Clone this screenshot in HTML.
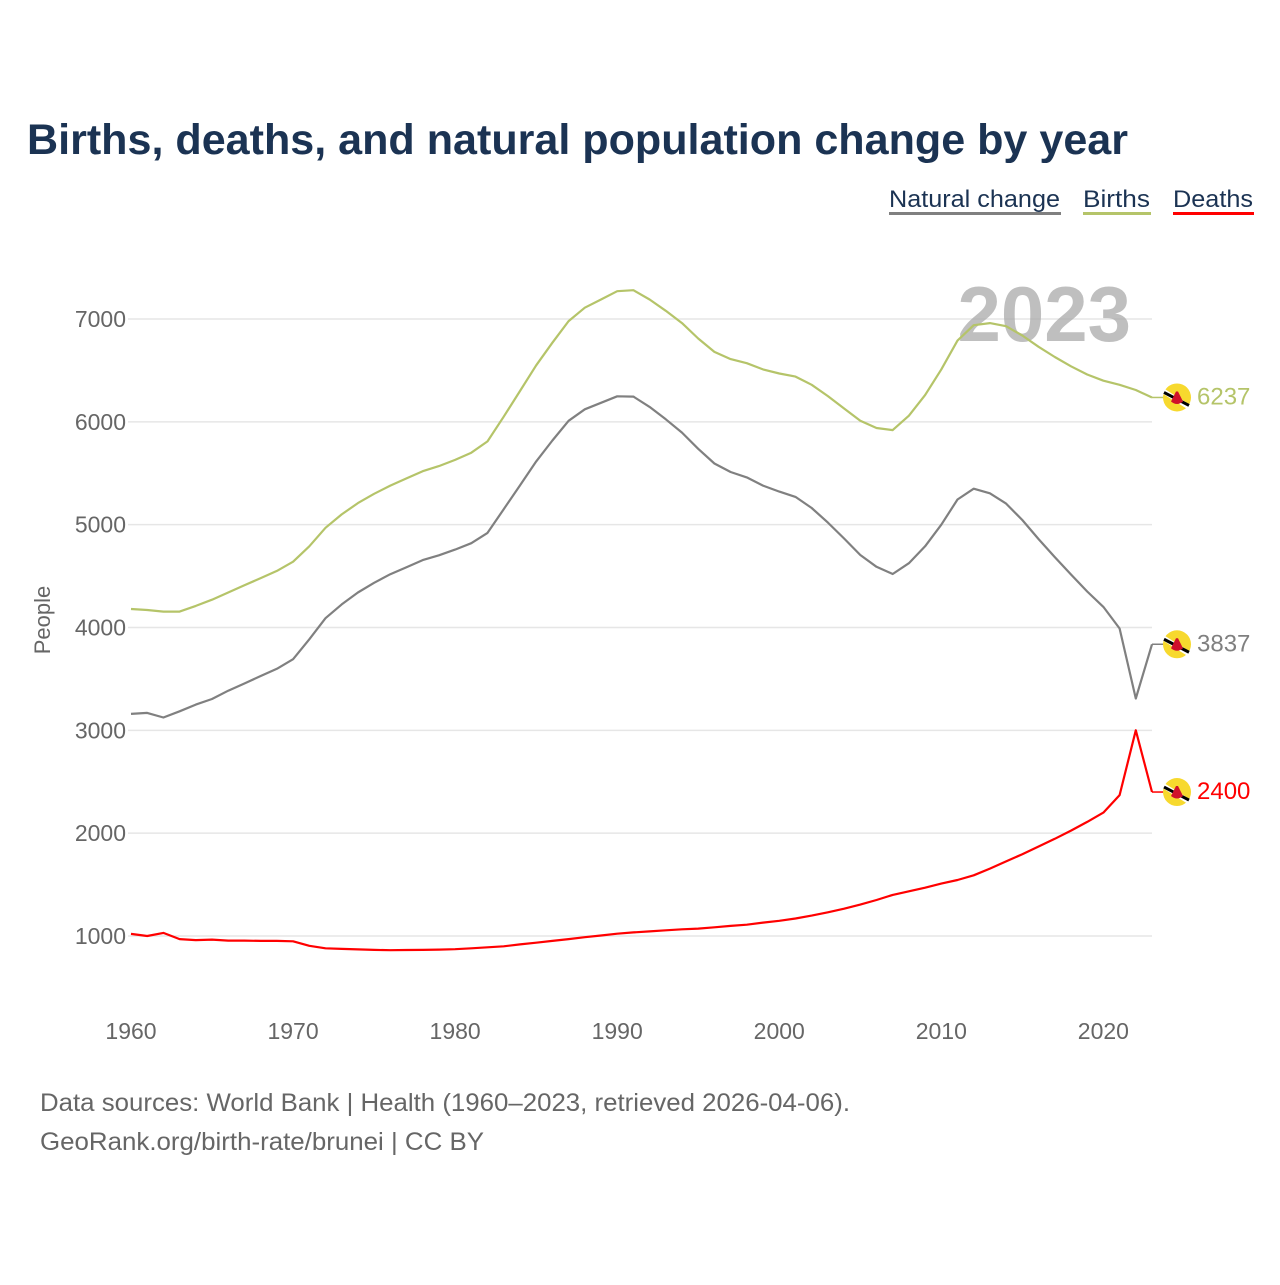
<!DOCTYPE html>
<html><head><meta charset="utf-8"><style>
body{margin:0;background:#fff;}
svg text{font-family:"Liberation Sans",sans-serif;}
</style></head><body>
<svg width="1280" height="1280" viewBox="0 0 1280 1280" xmlns="http://www.w3.org/2000/svg">
<rect width="1280" height="1280" fill="#fff"/>
<text x="27" y="154" font-size="43" font-weight="bold" fill="#1b3353" textLength="1101" lengthAdjust="spacingAndGlyphs">Births, deaths, and natural population change by year</text>
<g>
<text x="889" y="207" font-size="24" fill="#1b3353" textLength="171" lengthAdjust="spacingAndGlyphs">Natural change</text>
<rect x="889" y="212" width="172" height="3" fill="#808080"/>
<text x="1083" y="207" font-size="24" fill="#1b3353" textLength="67" lengthAdjust="spacingAndGlyphs">Births</text>
<rect x="1083" y="212" width="68" height="3" fill="#b5c469"/>
<text x="1173" y="207" font-size="24" fill="#1b3353" textLength="80" lengthAdjust="spacingAndGlyphs">Deaths</text>
<rect x="1173" y="212" width="81" height="3" fill="#ff0000"/>
</g>
<g id="grid"></g>
<g id="yticks"></g>
<g id="xticks"></g>
<text x="1131" y="341" font-size="78" font-weight="bold" fill="#aaa" fill-opacity="0.75" text-anchor="end">2023</text>
<g id="series"></g>
<text transform="translate(50,620) rotate(-90)" font-size="22" fill="#666" text-anchor="middle">People</text>
<text x="40" y="1111" font-size="25" fill="#666" textLength="810" lengthAdjust="spacingAndGlyphs">Data sources: World Bank | Health (1960–2023, retrieved 2026-04-06).</text>
<text x="40" y="1150" font-size="25" fill="#666" textLength="444" lengthAdjust="spacingAndGlyphs">GeoRank.org/birth-rate/brunei | CC BY</text>
</svg>
<script>
const years=[];for(let y=1960;y<=2023;y++)years.push(y);
const births=[4180,4170,4155,4155,4210,4270,4340,4410,4480,4550,4640,4790,4970,5100,5210,5300,5380,5450,5520,5570,5630,5700,5810,6050,6300,6550,6770,6980,7110,7190,7270,7280,7190,7080,6960,6810,6680,6610,6570,6510,6470,6440,6360,6250,6130,6010,5940,5920,6060,6260,6510,6790,6940,6960,6930,6840,6730,6630,6540,6460,6400,6360,6310,6237];
const deaths=[1020,1000,1030,970,960,965,955,955,952,952,948,905,880,875,870,865,862,864,865,868,872,880,890,900,918,935,952,970,988,1005,1022,1035,1045,1055,1065,1072,1085,1098,1110,1130,1148,1170,1198,1230,1265,1305,1350,1400,1435,1470,1510,1545,1590,1655,1725,1795,1870,1945,2025,2110,2200,2370,3000,2400];
const natural=[3160,3170,3125,3185,3250,3305,3385,3455,3528,3598,3692,3885,4090,4225,4340,4435,4518,4586,4655,4702,4758,4820,4920,5150,5382,5615,5818,6010,6122,6185,6248,6245,6145,6025,5895,5738,5595,5512,5460,5380,5322,5270,5162,5020,4865,4705,4590,4520,4625,4790,5000,5245,5350,5305,5205,5045,4860,4685,4515,4350,4200,3990,3310,3837];
const yTicks=[1000,2000,3000,4000,5000,6000,7000];
const xTicks=[1960,1970,1980,1990,2000,2010,2020];
const NS="http://www.w3.org/2000/svg";
const xs=y=>131+(y-1960)*(1152-131)/63;
const ys=v=>936-(v-1000)*(936-319)/6000;
function mk(tag,attrs,parent){const e=document.createElementNS(NS,tag);for(const k in attrs)e.setAttribute(k,attrs[k]);parent.appendChild(e);return e;}
const grid=document.getElementById('grid'),yt=document.getElementById('yticks'),xt=document.getElementById('xticks'),ser=document.getElementById('series');
yTicks.forEach(v=>{
 const l=mk('line',{x1:128,x2:1152,y1:ys(v),y2:ys(v),stroke:'#e6e6e6','stroke-width':1.5},grid);
 
 
 const t=mk('text',{x:126,y:ys(v)+8,'font-size':23,fill:'#666','text-anchor':'end'},yt);
 t.textContent=v;
 
 
});
xTicks.forEach(v=>{
 const t=mk('text',{x:xs(v),y:1039,'font-size':23,fill:'#666','text-anchor':'middle'},xt);
 t.textContent=v;
 
 
});
function series(vals,color,name){
 const d=vals.map((v,i)=>(i?'L':'M')+xs(years[i]).toFixed(1)+','+ys(v).toFixed(1)).join(' ');
 const p=mk('path',{d:d,fill:'none',stroke:color,'stroke-width':2.2,'stroke-linejoin':'round'},ser);
 
 
 const last=vals[vals.length-1],ly=ys(last);
 mk('line',{x1:1152,x2:1165,y1:ly,y2:ly,stroke:color,'stroke-width':1.5},ser);
 const g=mk('g',{},ser);
 
 
 mk('circle',{cx:1177,cy:ly,r:14,fill:'#f7d92e'},g);
 mk('line',{x1:1164,y1:ly-6,x2:1188,y2:ly+9,stroke:'#fff','stroke-width':5},g);
 mk('line',{x1:1164,y1:ly-5,x2:1189,y2:ly+8,stroke:'#000','stroke-width':3},g);
 mk('path',{d:`M1171 ${ly+4} Q1177 ${ly+9} 1183 ${ly+4} L1178 ${ly-6} L1176 ${ly-6} Z`,fill:'#d0102a'},g);
 const t=mk('text',{x:1197,y:ly+7,'font-size':24,fill:color},ser);
 t.textContent=last;
 
 
}
series(births,'#b5c469','births');
series(natural,'#808080','natural-change');
series(deaths,'#ff0000','deaths');
</script>
</body></html>
